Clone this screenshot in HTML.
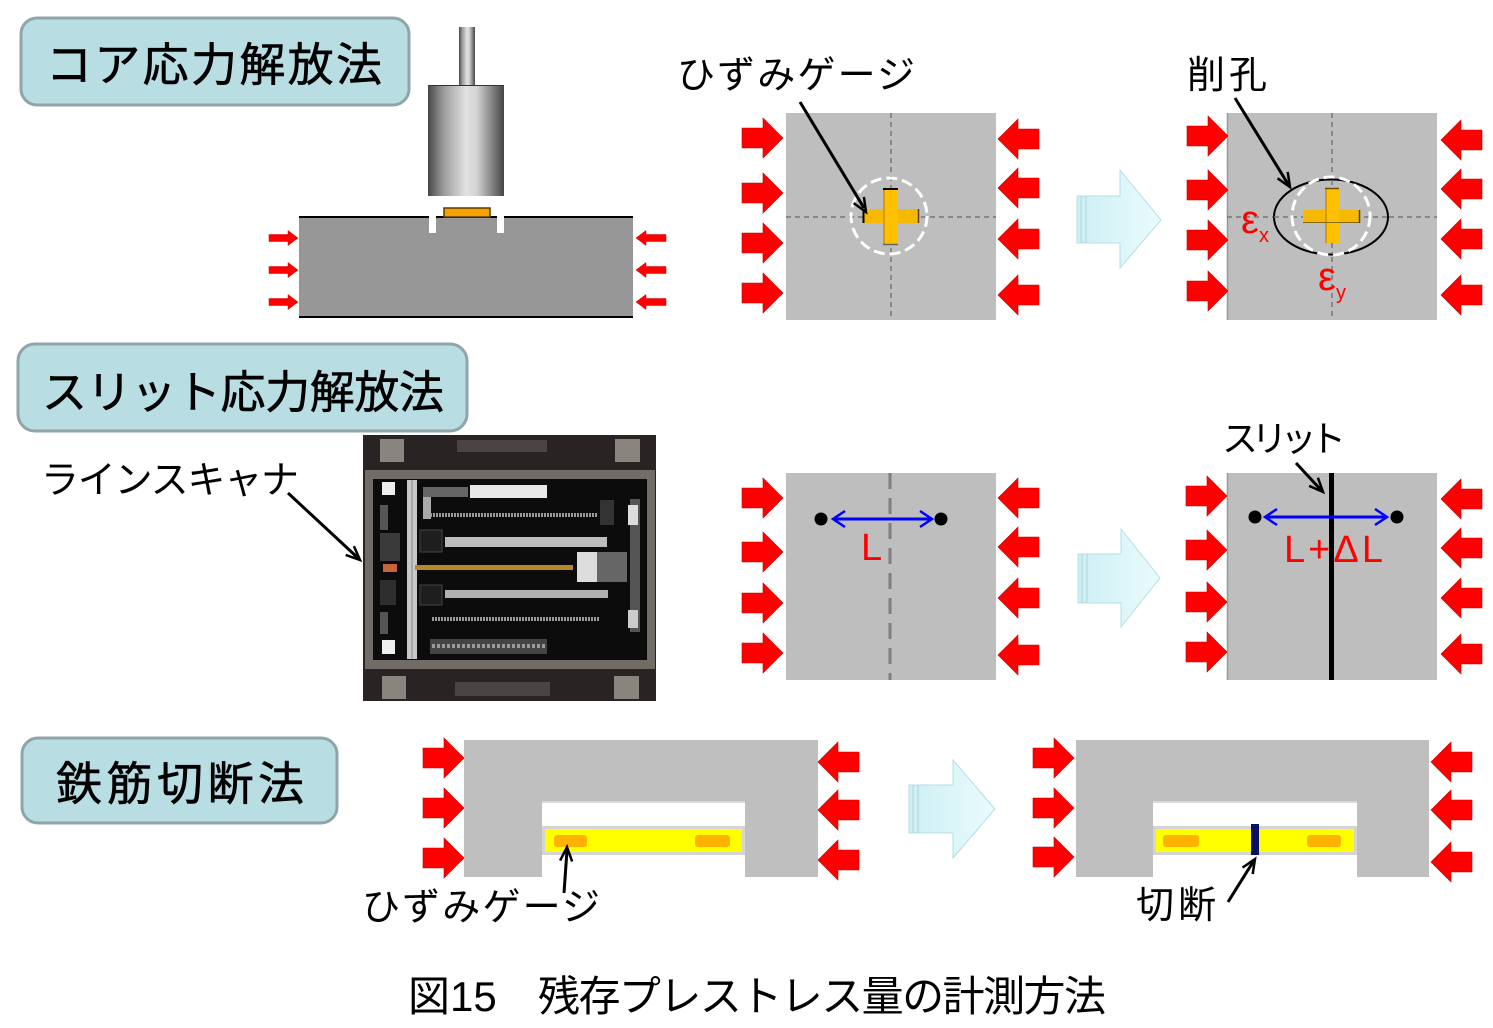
<!DOCTYPE html>
<html><head><meta charset="utf-8">
<style>
html,body{margin:0;padding:0;background:#fff;}
svg{display:block;}
.jp{font-family:"Liberation Sans","Noto Sans CJK JP",sans-serif;}
</style></head>
<body>
<svg width="1493" height="1028" viewBox="0 0 1493 1028" xmlns="http://www.w3.org/2000/svg">
<defs>
  <path id="ar" d="M0,-10 H21 V-20 L41,0 L21,20 V10 H0 Z" fill="#ff0000" stroke="#c80000" stroke-width="0.6"/>
  <path id="al" d="M0,0 L20,-20 V-10 H41 V10 H20 V20 Z" fill="#ff0000" stroke="#c80000" stroke-width="0.6"/>
  <path id="sar" d="M0,-3.5 H19 V-7.5 L29,0 L19,7.5 V3.5 H0 Z" fill="#ff0000" stroke="#d00000" stroke-width="0.5"/>
  <path id="sal" d="M0,0 L10,-7.5 V-3.5 H30 V3.5 H10 V7.5 Z" fill="#ff0000" stroke="#d00000" stroke-width="0.5"/>
  <linearGradient id="cyl" x1="0" y1="0" x2="1" y2="0">
    <stop offset="0" stop-color="#474747"/>
    <stop offset="0.2" stop-color="#9a9a9a"/>
    <stop offset="0.5" stop-color="#e2e2e2"/>
    <stop offset="0.65" stop-color="#d0d0d0"/>
    <stop offset="1" stop-color="#454545"/>
  </linearGradient>
  <linearGradient id="bl" x1="0" y1="0" x2="1" y2="0">
    <stop offset="0" stop-color="#cdeff4"/>
    <stop offset="1" stop-color="#eafbfd"/>
  </linearGradient>
</defs>

<!-- ===== Section 1 ===== -->
<rect x="21" y="18" width="388" height="87" rx="16" fill="#b8dee3" stroke="#8fa5a8" stroke-width="3"/>
<text class="jp" x="46" y="81" font-size="46" textLength="336" lengthAdjust="spacing" fill="#000" stroke="#000" stroke-width="0.6">コア応力解放法</text>

<!-- drill -->
<rect x="459" y="27" width="16" height="58" fill="url(#cyl)"/>
<rect x="428" y="85" width="76" height="111" fill="url(#cyl)"/>
<line x1="428" y1="85.5" x2="504" y2="85.5" stroke="#333" stroke-width="1"/>
<!-- block -->
<rect x="299" y="217" width="334" height="100" fill="#979797"/>
<line x1="299" y1="217" x2="633" y2="217" stroke="#000" stroke-width="2"/>
<line x1="299" y1="317" x2="633" y2="317" stroke="#000" stroke-width="2"/>
<rect x="429" y="214" width="7" height="19" fill="#fff"/>
<rect x="497" y="214" width="7" height="19" fill="#fff"/>
<rect x="444" y="208" width="46" height="9" fill="#f5a100" stroke="#5a3a00" stroke-width="1.5"/>
<use href="#sar" x="269" y="238"/><use href="#sar" x="269" y="270"/><use href="#sar" x="269" y="302"/>
<use href="#sal" x="636" y="238"/><use href="#sal" x="636" y="270"/><use href="#sal" x="636" y="302"/>

<!-- top middle -->
<text class="jp" x="677" y="88" font-size="38" textLength="238" lengthAdjust="spacing" fill="#000">ひずみゲージ</text>
<rect x="786" y="113" width="210" height="207" fill="#bebebe"/>
<line x1="891" y1="113" x2="891" y2="320" stroke="#777" stroke-width="1.5" stroke-dasharray="5 4"/>
<line x1="786" y1="217" x2="996" y2="217" stroke="#777" stroke-width="1.5" stroke-dasharray="5 4"/>
<circle cx="889" cy="216" r="38" fill="none" stroke="#fff" stroke-width="3" stroke-dasharray="11 5"/>
<rect x="863" y="209" width="56" height="14" fill="#f7b900"/>
<rect x="883" y="188" width="15" height="57" fill="#ffc000"/>
<line x1="884" y1="188" x2="884" y2="245" stroke="#d99a00" stroke-width="2"/>
<line x1="863.5" y1="209" x2="863.5" y2="223" stroke="#000" stroke-width="2"/>
<line x1="918.5" y1="209" x2="918.5" y2="223" stroke="#5a4000" stroke-width="1.5"/>
<line x1="883" y1="189" x2="898" y2="189" stroke="#000" stroke-width="2"/>
<line x1="883" y1="244.5" x2="898" y2="244.5" stroke="#666" stroke-width="1.5"/>
<line x1="800" y1="102" x2="864" y2="208" stroke="#000" stroke-width="3"/>
<polyline points="853.7,203.1 866,212 863.9,196.9" fill="none" stroke="#000" stroke-width="2.5"/>
<use href="#ar" x="742" y="138"/><use href="#ar" x="742" y="193"/><use href="#ar" x="742" y="243"/><use href="#ar" x="742" y="293"/>
<use href="#al" x="998" y="139"/><use href="#al" x="998" y="188"/><use href="#al" x="998" y="239"/><use href="#al" x="998" y="295"/>

<!-- big arrow 1 -->
<path d="M1077,196 H1120 V170 L1161,220 L1120,268 V243 H1077 Z" fill="url(#bl)" stroke="#b5dfe6" stroke-width="1"/>
<line x1="1081" y1="196" x2="1081" y2="243" stroke="#b0d6dc" stroke-width="1"/>
<line x1="1086" y1="196" x2="1086" y2="243" stroke="#b0d6dc" stroke-width="1"/>

<!-- top right -->
<text class="jp" x="1187" y="88" font-size="38" textLength="80" lengthAdjust="spacing" fill="#000">削孔</text>
<rect x="1227" y="113" width="210" height="207" fill="#bebebe"/>
<line x1="1227.5" y1="113" x2="1227.5" y2="320" stroke="#8e9e9e" stroke-width="1.5"/>
<line x1="1332" y1="113" x2="1332" y2="320" stroke="#777" stroke-width="1.5" stroke-dasharray="5 4"/>
<line x1="1227" y1="217" x2="1437" y2="217" stroke="#777" stroke-width="1.5" stroke-dasharray="5 4"/>
<ellipse cx="1331" cy="217" rx="57" ry="37.5" fill="#bebebe" stroke="#000" stroke-width="2"/>
<line x1="1332" y1="180" x2="1332" y2="254" stroke="#777" stroke-width="1.5" stroke-dasharray="5 4"/>
<line x1="1274" y1="217" x2="1388" y2="217" stroke="#777" stroke-width="1.5" stroke-dasharray="5 4"/>
<circle cx="1331" cy="216" r="39" fill="none" stroke="#fff" stroke-width="3" stroke-dasharray="11 5"/>
<rect x="1303" y="210" width="57" height="13" fill="#f7b900"/>
<rect x="1325" y="188" width="14" height="55" fill="#ffc000"/>
<line x1="1326" y1="188" x2="1326" y2="243" stroke="#d99a00" stroke-width="2"/>
<line x1="1303" y1="222.5" x2="1360" y2="222.5" stroke="#8a6a10" stroke-width="1"/>
<line x1="1359.5" y1="210" x2="1359.5" y2="223" stroke="#5a4000" stroke-width="1.5"/>
<line x1="1325" y1="188.5" x2="1339" y2="188.5" stroke="#6a5000" stroke-width="1.5"/>
<text x="1241" y="233" font-family="Liberation Sans, DejaVu Sans, sans-serif" font-size="40" fill="#f00">ε</text>
<text x="1259" y="242" font-family="Liberation Sans, sans-serif" font-size="20" fill="#f00">x</text>
<text x="1318" y="290" font-family="Liberation Sans, DejaVu Sans, sans-serif" font-size="40" fill="#f00">ε</text>
<text x="1336" y="299" font-family="Liberation Sans, sans-serif" font-size="20" fill="#f00">y</text>
<line x1="1235" y1="98" x2="1288" y2="184" stroke="#000" stroke-width="3"/>
<polyline points="1277.5,178.3 1290,187 1287.7,171.9" fill="none" stroke="#000" stroke-width="2.5"/>
<use href="#ar" x="1187" y="136"/><use href="#ar" x="1187" y="190"/><use href="#ar" x="1187" y="240"/><use href="#ar" x="1187" y="291"/>
<use href="#al" x="1441" y="140"/><use href="#al" x="1441" y="189"/><use href="#al" x="1441" y="239"/><use href="#al" x="1441" y="295"/>

<!-- ===== Section 2 ===== -->
<rect x="18" y="344" width="449" height="87" rx="17" fill="#b8dee3" stroke="#8fa5a8" stroke-width="3"/>
<text class="jp" x="42" y="408" font-size="45" textLength="402" lengthAdjust="spacing" fill="#000" stroke="#000" stroke-width="0.6">スリット応力解放法</text>

<text class="jp" x="41" y="493" font-size="38" textLength="258" lengthAdjust="spacing" fill="#000">ラインスキャナ</text>
<line x1="288" y1="493" x2="358" y2="558" stroke="#000" stroke-width="3"/>
<polyline points="345.7,554.9 360,560 353.9,546.1" fill="none" stroke="#000" stroke-width="2.5"/>

<!-- photo -->
<g>
  <rect x="363" y="435" width="293" height="266" fill="#2a2323"/>
  <rect x="457" y="440" width="90" height="12" fill="#4b4444"/>
  <rect x="455" y="682" width="95" height="14" fill="#4b4444"/>
  <rect x="380" y="439" width="24" height="23" fill="#8a847e"/>
  <rect x="615" y="439" width="25" height="23" fill="#8a847e"/>
  <rect x="382" y="676" width="24" height="23" fill="#8a847e"/>
  <rect x="614" y="676" width="25" height="23" fill="#8a847e"/>
  <rect x="365" y="470" width="290" height="199" fill="#716c66"/>
  <rect x="373" y="479" width="274" height="181" fill="#0c0c0c"/>
  <rect x="382" y="482" width="13" height="13" fill="#eee"/>
  <rect x="382" y="640" width="13" height="14" fill="#eee"/>
  <rect x="380" y="505" width="8" height="25" fill="#555"/>
  <rect x="380" y="533" width="20" height="28" fill="#3a3a3a"/>
  <rect x="383" y="564" width="14" height="8" fill="#c8643c"/>
  <rect x="380" y="580" width="16" height="25" fill="#2e2e2e"/>
  <rect x="380" y="612" width="8" height="22" fill="#555"/>
  <rect x="407" y="480" width="10" height="179" fill="#c8c8c8"/>
  <line x1="412" y1="480" x2="412" y2="659" stroke="#888" stroke-width="1"/>
  <rect x="423" y="487" width="45" height="10" fill="#666"/>
  <rect x="470" y="485" width="77" height="13" fill="#e8e8e8"/>
  <rect x="423" y="497" width="8" height="22" fill="#aaa"/>
  <line x1="430" y1="515" x2="597" y2="515" stroke="#9a9a9a" stroke-width="4" stroke-dasharray="2 1"/>
  <rect x="420" y="530" width="22" height="22" fill="#1e1e1e" stroke="#444"/>
  <rect x="445" y="537" width="162" height="10" fill="#bcbcbc"/>
  <rect x="415" y="565" width="158" height="5" fill="#b8862b"/>
  <rect x="420" y="585" width="22" height="20" fill="#1e1e1e" stroke="#444"/>
  <rect x="445" y="590" width="163" height="8" fill="#b0b0b0"/>
  <line x1="432" y1="619" x2="600" y2="619" stroke="#9a9a9a" stroke-width="4" stroke-dasharray="2 1"/>
  <rect x="430" y="639" width="117" height="15" fill="#444"/>
  <line x1="432" y1="646" x2="545" y2="646" stroke="#999" stroke-width="4" stroke-dasharray="3 2"/>
  <rect x="577" y="552" width="20" height="30" fill="#ddd"/>
  <rect x="597" y="552" width="30" height="30" fill="#666"/>
  <rect x="600" y="500" width="14" height="25" fill="#333"/>
  <rect x="630" y="499" width="10" height="133" fill="#555"/>
  <rect x="628" y="505" width="10" height="20" fill="#ddd"/>
  <rect x="628" y="610" width="10" height="18" fill="#ccc"/>
</g>

<!-- mid middle -->
<rect x="786" y="473" width="210" height="207" fill="#bebebe"/>
<line x1="890" y1="473" x2="890" y2="680" stroke="#7f7f7f" stroke-width="3" stroke-dasharray="16 9"/>
<circle cx="821" cy="519" r="6.5" fill="#000"/>
<circle cx="941" cy="519" r="6.5" fill="#000"/>
<line x1="834" y1="519" x2="931" y2="519" stroke="#0000ff" stroke-width="3"/>
<polyline points="845,511 833,519 845,527" fill="none" stroke="#0000ff" stroke-width="2.5"/>
<polyline points="920,511 932,519 920,527" fill="none" stroke="#0000ff" stroke-width="2.5"/>
<text x="861" y="560" font-family="Liberation Sans, sans-serif" font-size="38" fill="#f00">L</text>
<use href="#ar" x="742" y="498"/><use href="#ar" x="742" y="552"/><use href="#ar" x="742" y="603"/><use href="#ar" x="742" y="653"/>
<use href="#al" x="998" y="498"/><use href="#al" x="998" y="547"/><use href="#al" x="998" y="598"/><use href="#al" x="998" y="655"/>

<!-- big arrow 2 -->
<path d="M1078,554 H1121 V529 L1160,578 L1121,627 V603 H1078 Z" fill="url(#bl)" stroke="#b5dfe6" stroke-width="1"/>
<line x1="1082" y1="554" x2="1082" y2="603" stroke="#b0d6dc" stroke-width="1"/>
<line x1="1087" y1="554" x2="1087" y2="603" stroke="#b0d6dc" stroke-width="1"/>

<!-- mid right -->
<text class="jp" x="1222" y="451" font-size="36" textLength="124" lengthAdjust="spacing" fill="#000">スリット</text>
<rect x="1227" y="473" width="210" height="207" fill="#bebebe"/>
<line x1="1227.5" y1="473" x2="1227.5" y2="680" stroke="#8e9e9e" stroke-width="1.5"/>
<rect x="1329" y="473" width="5" height="207" fill="#000"/>
<line x1="1296" y1="463" x2="1321" y2="490" stroke="#000" stroke-width="3"/>
<polyline points="1309.1,485.9 1323,492 1317.9,477.7" fill="none" stroke="#000" stroke-width="2.5"/>
<circle cx="1255" cy="517" r="6.5" fill="#000"/>
<circle cx="1397" cy="517" r="6.5" fill="#000"/>
<line x1="1266" y1="517" x2="1386" y2="517" stroke="#0000ff" stroke-width="3"/>
<polyline points="1277,509 1265,517 1277,525" fill="none" stroke="#0000ff" stroke-width="2.5"/>
<polyline points="1375,509 1387,517 1375,525" fill="none" stroke="#0000ff" stroke-width="2.5"/>
<text x="1284" y="562" font-family="Liberation Sans, DejaVu Sans, sans-serif" font-size="38" textLength="99" lengthAdjust="spacing" fill="#f00">L+ΔL</text>
<use href="#ar" x="1186" y="496"/><use href="#ar" x="1186" y="550"/><use href="#ar" x="1186" y="602"/><use href="#ar" x="1186" y="652"/>
<use href="#al" x="1441" y="499"/><use href="#al" x="1441" y="548"/><use href="#al" x="1441" y="598"/><use href="#al" x="1441" y="654"/>

<!-- ===== Section 3 ===== -->
<rect x="22" y="738" width="315" height="85" rx="16" fill="#b8dee3" stroke="#8fa5a8" stroke-width="3"/>
<text class="jp" x="56" y="800" font-size="46" textLength="248" lengthAdjust="spacing" fill="#000" stroke="#000" stroke-width="0.6">鉄筋切断法</text>

<!-- left U -->
<path d="M464,740 H818 V877 H745 V802 H542 V877 H464 Z" fill="#bfbfbf"/>
<line x1="542" y1="802" x2="745" y2="802" stroke="#d9d9d9" stroke-width="2"/>
<rect x="543.5" y="827.5" width="200" height="26" fill="#ffff00" stroke="#d4d4d4" stroke-width="3"/>
<rect x="554" y="835" width="33" height="12" rx="3" fill="#ffb300"/>
<rect x="695" y="835" width="35" height="12" rx="3" fill="#ffb300"/>
<use href="#ar" x="423" y="758"/><use href="#ar" x="423" y="808"/><use href="#ar" x="423" y="858"/>
<use href="#al" x="818" y="762"/><use href="#al" x="818" y="810"/><use href="#al" x="818" y="860"/>
<line x1="564" y1="893" x2="567" y2="850" stroke="#000" stroke-width="3"/>
<polyline points="560.1,860.6 567,847 572.1,861.4" fill="none" stroke="#000" stroke-width="2.5"/>
<text class="jp" x="362" y="920" font-size="38" textLength="238" lengthAdjust="spacing" fill="#000">ひずみゲージ</text>

<!-- big arrow 3 -->
<path d="M909,785 H953 V760 L995,809 L953,858 V833 H909 Z" fill="url(#bl)" stroke="#b5dfe6" stroke-width="1"/>
<line x1="913" y1="785" x2="913" y2="833" stroke="#b0d6dc" stroke-width="1"/>
<line x1="918" y1="785" x2="918" y2="833" stroke="#b0d6dc" stroke-width="1"/>

<!-- right U -->
<path d="M1076,740 H1429 V877 H1357 V802 H1153 V877 H1076 Z" fill="#bfbfbf"/>
<line x1="1153" y1="802" x2="1357" y2="802" stroke="#d9d9d9" stroke-width="2"/>
<rect x="1154.5" y="827.5" width="201" height="26" fill="#ffff00" stroke="#d4d4d4" stroke-width="3"/>
<rect x="1163" y="835" width="36" height="12" rx="3" fill="#ffb300"/>
<rect x="1307" y="835" width="34" height="12" rx="3" fill="#ffb300"/>
<rect x="1251" y="824" width="8" height="31" fill="#0b1060"/>
<use href="#ar" x="1033" y="758"/><use href="#ar" x="1033" y="808"/><use href="#ar" x="1033" y="857"/>
<use href="#al" x="1431" y="762"/><use href="#al" x="1431" y="810"/><use href="#al" x="1431" y="862"/>
<line x1="1228" y1="902" x2="1253" y2="862" stroke="#000" stroke-width="3"/>
<polyline points="1242.5,867.6 1255,859 1252.7,874" fill="none" stroke="#000" stroke-width="2.5"/>
<text class="jp" x="1136" y="918" font-size="38" textLength="80" lengthAdjust="spacing" fill="#000">切断</text>

<!-- caption -->
<text class="jp" x="408" y="1011" font-size="42" fill="#000">図15</text>
<text class="jp" x="538" y="1011" font-size="42" textLength="568" lengthAdjust="spacing" fill="#000">残存プレストレス量の計測方法</text>
</svg>
</body></html>
